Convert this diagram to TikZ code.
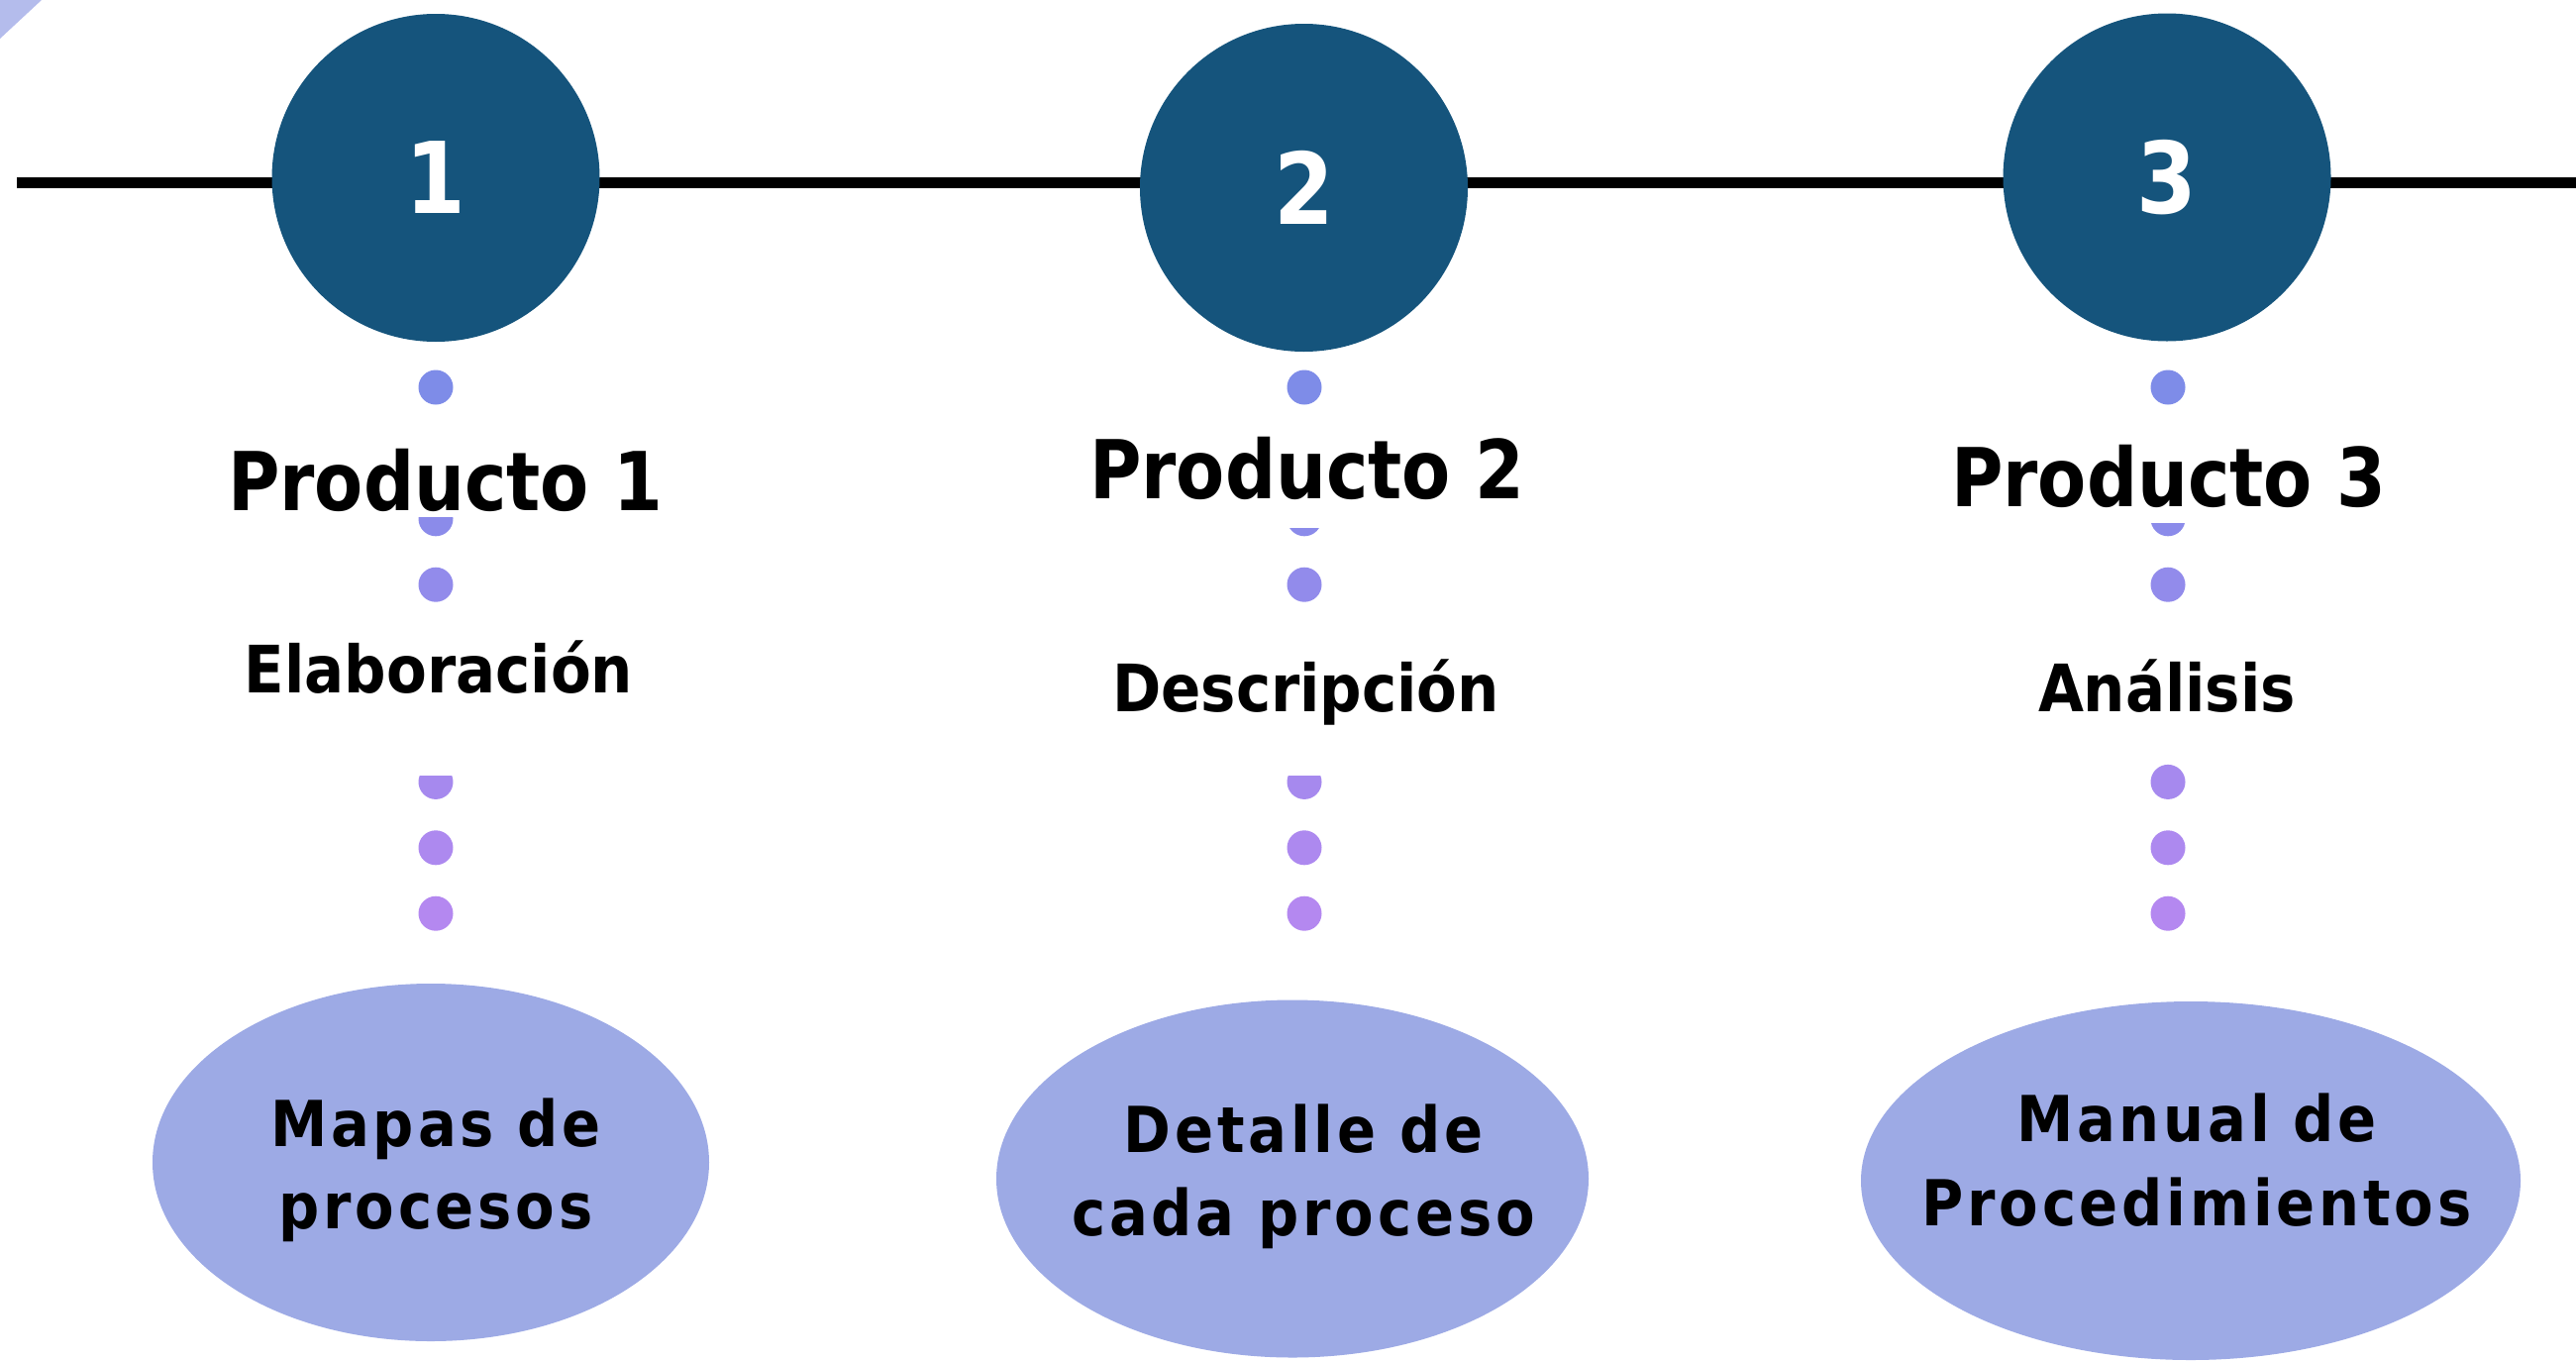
\documentclass[tikz,border=0pt]{standalone}
\usepackage{fontspec}
\setmainfont{DejaVu Sans}
\newfontfamily\hdfont[FakeStretch=0.97]{DejaVu Sans Condensed}
\newfontfamily\subfont{DejaVu Sans Condensed}
\newfontfamily\elfont[LetterSpace=6]{DejaVu Sans Condensed}
\definecolor{circc}{RGB}{21,84,124}
\definecolor{ellc}{RGB}{157,170,229}
\definecolor{cornerc}{RGB}{180,188,236}
\definecolor{dotA}{RGB}{126,140,232}
\definecolor{dotB}{RGB}{180,136,240}
\tikzset{
  numc/.style={circle, fill=circc, minimum size=331pt, inner sep=0pt, text=white,
    font=\hdfont\bfseries\fontsize{100}{110}\selectfont},
  dotn/.style={circle, inner sep=0pt, minimum size=35pt},
  titlebox/.style={fill=white, inner sep=0pt, anchor=base,
    font=\hdfont\bfseries\fontsize{82}{96}\selectfont},
  subbox/.style={fill=white, inner sep=0pt, anchor=base,
    font=\subfont\bfseries\fontsize{66}{78}\selectfont},
  ellnode/.style={ellipse, fill=ellc, inner sep=0pt},
  elltext/.style={inner sep=0pt, anchor=base,
    font=\elfont\bfseries\fontsize{64}{80}\selectfont}
}
\usetikzlibrary{shapes.geometric}
\begin{document}
\begin{tikzpicture}[x=1pt,y=-1pt]
\useasboundingbox (0,0) rectangle (2601,1374);
\fill[cornerc] (0,0) -- (42,0) -- (0,39) -- cycle;
% timeline
\coordinate (L) at (17,184.5);
\coordinate (R) at (2601,184.5);
\draw[line width=11pt] (L) -- (R);
% number circles
\node[numc] (c1) at (440,179.5) {1};
\node[numc] (c2) at (1316.5,189.5) {2};
\node[numc] (c3) at (2188,179) {3};
% dotted columns
\foreach \cx/\c in {440/1,1317/2,2189/3}{
  \foreach \k in {0,...,8}{
    \pgfmathsetmacro{\yy}{391+66.4*\k}
    \pgfmathtruncatemacro{\pc}{\k*12.5}
    \node[dotn, fill=dotB!\pc!dotA] (d\c-\k) at (\cx,\yy) {};
  }
}
% titles (white boxes cover part of the dots)
\node[titlebox, text height=80pt, text depth=7pt] (p1) at (450,515) {Producto 1};
\node[titlebox, text height=80pt, text depth=30pt] (p2) at (1320,503) {Producto 2};
\node[titlebox, text height=80pt, text depth=17pt] (p3) at (2190,511) {Producto 3};
\node[subbox, text height=89pt, text depth=84pt] (s1) at (443,699) {Elaboración};
\node[subbox, text height=108pt, text depth=65pt] (s2) at (1318.5,718) {Descripción};
\node[subbox, text height=108pt, text depth=36pt] (s3) at (2188,718) {Análisis};
% ellipses
\node[ellnode, minimum width=562pt, minimum height=361pt] (e1) at (435,1173.5) {};
\node[ellnode, minimum width=598pt, minimum height=361pt] (e2) at (1305,1190) {};
\node[ellnode, minimum width=666pt, minimum height=362pt] (e3) at (2212,1192) {};
\node[elltext] (t1a) at (440,1157) {Mapas de};
\node[elltext] (t1b) at (440,1240) {procesos};
\node[elltext] (t2a) at (1316,1163) {Detalle de};
\node[elltext] (t2b) at (1316,1247) {cada proceso};
\node[elltext] (t3a) at (2218,1152) {Manual de};
\node[elltext] (t3b) at (2218,1237) {Procedimientos};
\end{tikzpicture}
\end{document}
